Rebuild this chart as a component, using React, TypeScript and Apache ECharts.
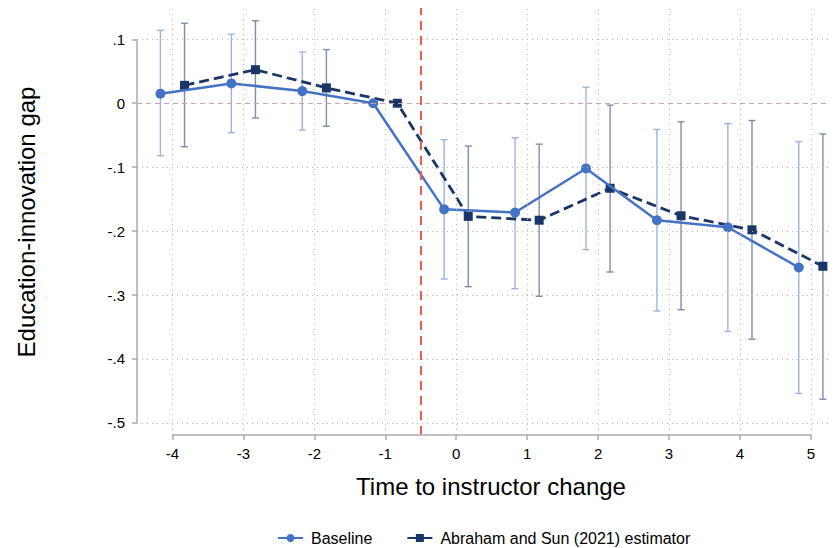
import React, { useEffect, useRef } from "react";
import * as echarts from "echarts";

// ---- data ----
const periods = [-4, -3, -2, -1, 0, 1, 2, 3, 4, 5];
const baseline = [0.015, 0.031, 0.019, 0, -0.166, -0.171, -0.102, -0.183, -0.194, -0.257];
const baselineLo = [-0.082, -0.046, -0.042, null, -0.275, -0.29, -0.229, -0.325, -0.357, -0.454];
const baselineHi = [0.114, 0.108, 0.08, null, -0.057, -0.054, 0.025, -0.041, -0.032, -0.06];
const asEst = [0.028, 0.0525, 0.024, 0, -0.177, -0.183, -0.133, -0.176, -0.198, -0.255];
const asLo = [-0.068, -0.023, -0.036, null, -0.287, -0.302, -0.264, -0.323, -0.369, -0.463];
const asHi = [0.125, 0.129, 0.084, null, -0.067, -0.064, -0.003, -0.029, -0.027, -0.048];
const yTicks = [-0.5, -0.4, -0.3, -0.2, -0.1, 0, 0.1];
const xTicks = periods;
const seriesNames = ["Baseline", "Abraham and Sun (2021) estimator"];
const xTitle = "Time to instructor change";
const yTitle = "Education-innovation gap";
const eventLine = -0.5;

const X_MIN = -4.5;
const X_MAX = 5.27;
const Y_MIN = -0.519;
const Y_MAX = 0.149;
const OFFSET = 0.17;

const FONT = "'Liberation Sans', Arial, Helvetica, sans-serif";
const C_BASE = "#4472c4";
const C_AS = "#1a3668";
const C_BASE_CI = "#9cb4e2";
const C_AS_CI = "#7d8eac";
const C_AXIS = "#ababab";
const C_GRID = "#b8b8b8";

const fmtY = (v: number) => {
  if (Math.abs(v) < 1e-9) return "0";
  const s = String(Math.round(Math.abs(v) * 10) / 10).replace(/^0/, "");
  return (v < 0 ? "-" : "") + s;
};

const ciData = (lo: (number | null)[], hi: (number | null)[], off: number) =>
  periods
    .map((p, i) => [p + off, lo[i], hi[i]])
    .filter((d) => d[1] !== null && d[2] !== null);

const ciRender = (color: string) => (params: any, api: any) => {
  const x = api.value(0);
  const pLo = api.coord([x, api.value(1)]);
  const pHi = api.coord([x, api.value(2)]);
  const cap = 3.5;
  const style = { stroke: color, lineWidth: 1.4, fill: null };
  return {
    type: "group",
    children: [
      { type: "line", shape: { x1: pLo[0], y1: pLo[1], x2: pHi[0], y2: pHi[1] }, style },
      { type: "line", shape: { x1: pLo[0] - cap, y1: pLo[1], x2: pLo[0] + cap, y2: pLo[1] }, style },
      { type: "line", shape: { x1: pHi[0] - cap, y1: pHi[1], x2: pHi[0] + cap, y2: pHi[1] }, style },
    ],
  };
};

export default function App() {
  const ref = useRef<HTMLDivElement>(null);

  useEffect(() => {
    if (!ref.current) return;
    const chart = echarts.init(ref.current, null, { renderer: "svg" });

    const gridStyle = { color: C_GRID, width: 1, type: [1, 4] };
    const gridLines: any[] = [
      ...xTicks.map((v) => [
        { coord: [v, Y_MIN], lineStyle: gridStyle },
        { coord: [v, Y_MAX] },
      ]),
      ...yTicks
        .filter((v) => v !== 0)
        .map((v) => [
          { coord: [X_MIN, v], lineStyle: gridStyle },
          { coord: [X_MAX, v] },
        ]),
      [
        { coord: [X_MIN, 0], lineStyle: { color: "#c9a2b6", width: 1, type: [5, 4] } },
        { coord: [X_MAX, 0] },
      ],
      [
        { coord: [eventLine, Y_MIN], lineStyle: { color: "#ee5a4c", width: 2, type: [9, 6] } },
        { coord: [eventLine, Y_MAX] },
      ],
      [
        { coord: [xTicks[0], Y_MIN], lineStyle: { color: C_AXIS, width: 1.5, type: "solid" } },
        { coord: [xTicks[xTicks.length - 1], Y_MIN] },
      ],
      [
        { coord: [X_MIN, yTicks[0]], lineStyle: { color: C_AXIS, width: 1.5, type: "solid" } },
        { coord: [X_MIN, yTicks[yTicks.length - 1]] },
      ],
    ];

    const option: any = {
      animation: false,
      backgroundColor: "#ffffff",
      textStyle: { fontFamily: FONT },
      grid: { left: 137, right: 3, top: 8, bottom: 113, containLabel: false, outerBoundsMode: "none" },
      xAxis: {
        type: "value",
        min: X_MIN,
        max: X_MAX,
        axisLine: { show: false, onZero: false },
        axisTick: {
          show: true,
          customValues: xTicks,
          length: 5,
          lineStyle: { color: C_AXIS, width: 1.5 },
        },
        axisLabel: {
          customValues: xTicks,
          formatter: (v: number) => String(Math.round(v)),
          color: "#000",
          fontSize: 15,
          fontFamily: FONT,
          margin: 11,
        },
        splitLine: { show: false },
      },
      yAxis: {
        type: "value",
        min: Y_MIN,
        max: Y_MAX,
        axisLine: { show: false, onZero: false },
        axisTick: {
          show: true,
          customValues: yTicks,
          length: 5,
          lineStyle: { color: C_AXIS, width: 1.5 },
        },
        axisLabel: {
          customValues: yTicks,
          formatter: (v: number) => fmtY(v),
          color: "#000",
          fontSize: 15,
          fontFamily: FONT,
          margin: 12,
        },
        splitLine: { show: false },
      },
      legend: {
        data: seriesNames,
        left: 272,
        top: 525,
        itemWidth: 25,
        itemHeight: 10,
        itemGap: 34,
        textStyle: { fontSize: 16, color: "#000", fontFamily: FONT, padding: [0, 0, 0, 3] },
      },
      graphic: [
        {
          type: "text",
          x: 491,
          y: 486,
          style: {
            text: xTitle,
            fontSize: 24,
            fontFamily: FONT,
            fill: "#000",
            textAlign: "center",
            textVerticalAlign: "middle",
          },
        },
        {
          type: "text",
          x: 26,
          y: 222,
          rotation: Math.PI / 2,
          style: {
            text: yTitle,
            fontSize: 24,
            fontFamily: FONT,
            fill: "#000",
            textAlign: "center",
            textVerticalAlign: "middle",
          },
        },
      ],
      series: [
        {
          name: "grid",
          type: "line",
          data: [],
          z: 1,
          clip: false,
          silent: true,
          markLine: {
            silent: true,
            symbol: ["none", "none"],
            label: { show: false },
            animation: false,
            data: gridLines,
          },
        },
        {
          name: "baseline-ci",
          type: "custom",
          z: 2,
          data: ciData(baselineLo, baselineHi, -OFFSET),
          renderItem: ciRender(C_BASE_CI),
          encode: { x: 0, y: [1, 2] },
          silent: true,
        },
        {
          name: "as-ci",
          type: "custom",
          z: 2,
          data: ciData(asLo, asHi, OFFSET),
          renderItem: ciRender(C_AS_CI),
          encode: { x: 0, y: [1, 2] },
          silent: true,
        },
        {
          name: seriesNames[0],
          type: "line",
          z: 4,
          data: periods.map((p, i) => [p - OFFSET, baseline[i]]),
          symbol: "circle",
          symbolSize: 10,
          showSymbol: true,
          itemStyle: { color: C_BASE },
          lineStyle: { color: C_BASE, width: 2.5 },
        },
        {
          name: seriesNames[1],
          type: "line",
          z: 3,
          data: periods.map((p, i) => [p + OFFSET, asEst[i]]),
          symbol: "rect",
          symbolSize: 9,
          showSymbol: true,
          itemStyle: { color: C_AS },
          lineStyle: { color: C_AS, width: 2.8, type: [10, 5] },
        },
      ],
    };

    chart.setOption(option);
    return () => chart.dispose();
  }, []);

  return (
    <div
      ref={ref}
      style={{ position: "fixed", left: 0, top: 0, width: 833, height: 548, background: "#fff" }}
    />
  );
}
